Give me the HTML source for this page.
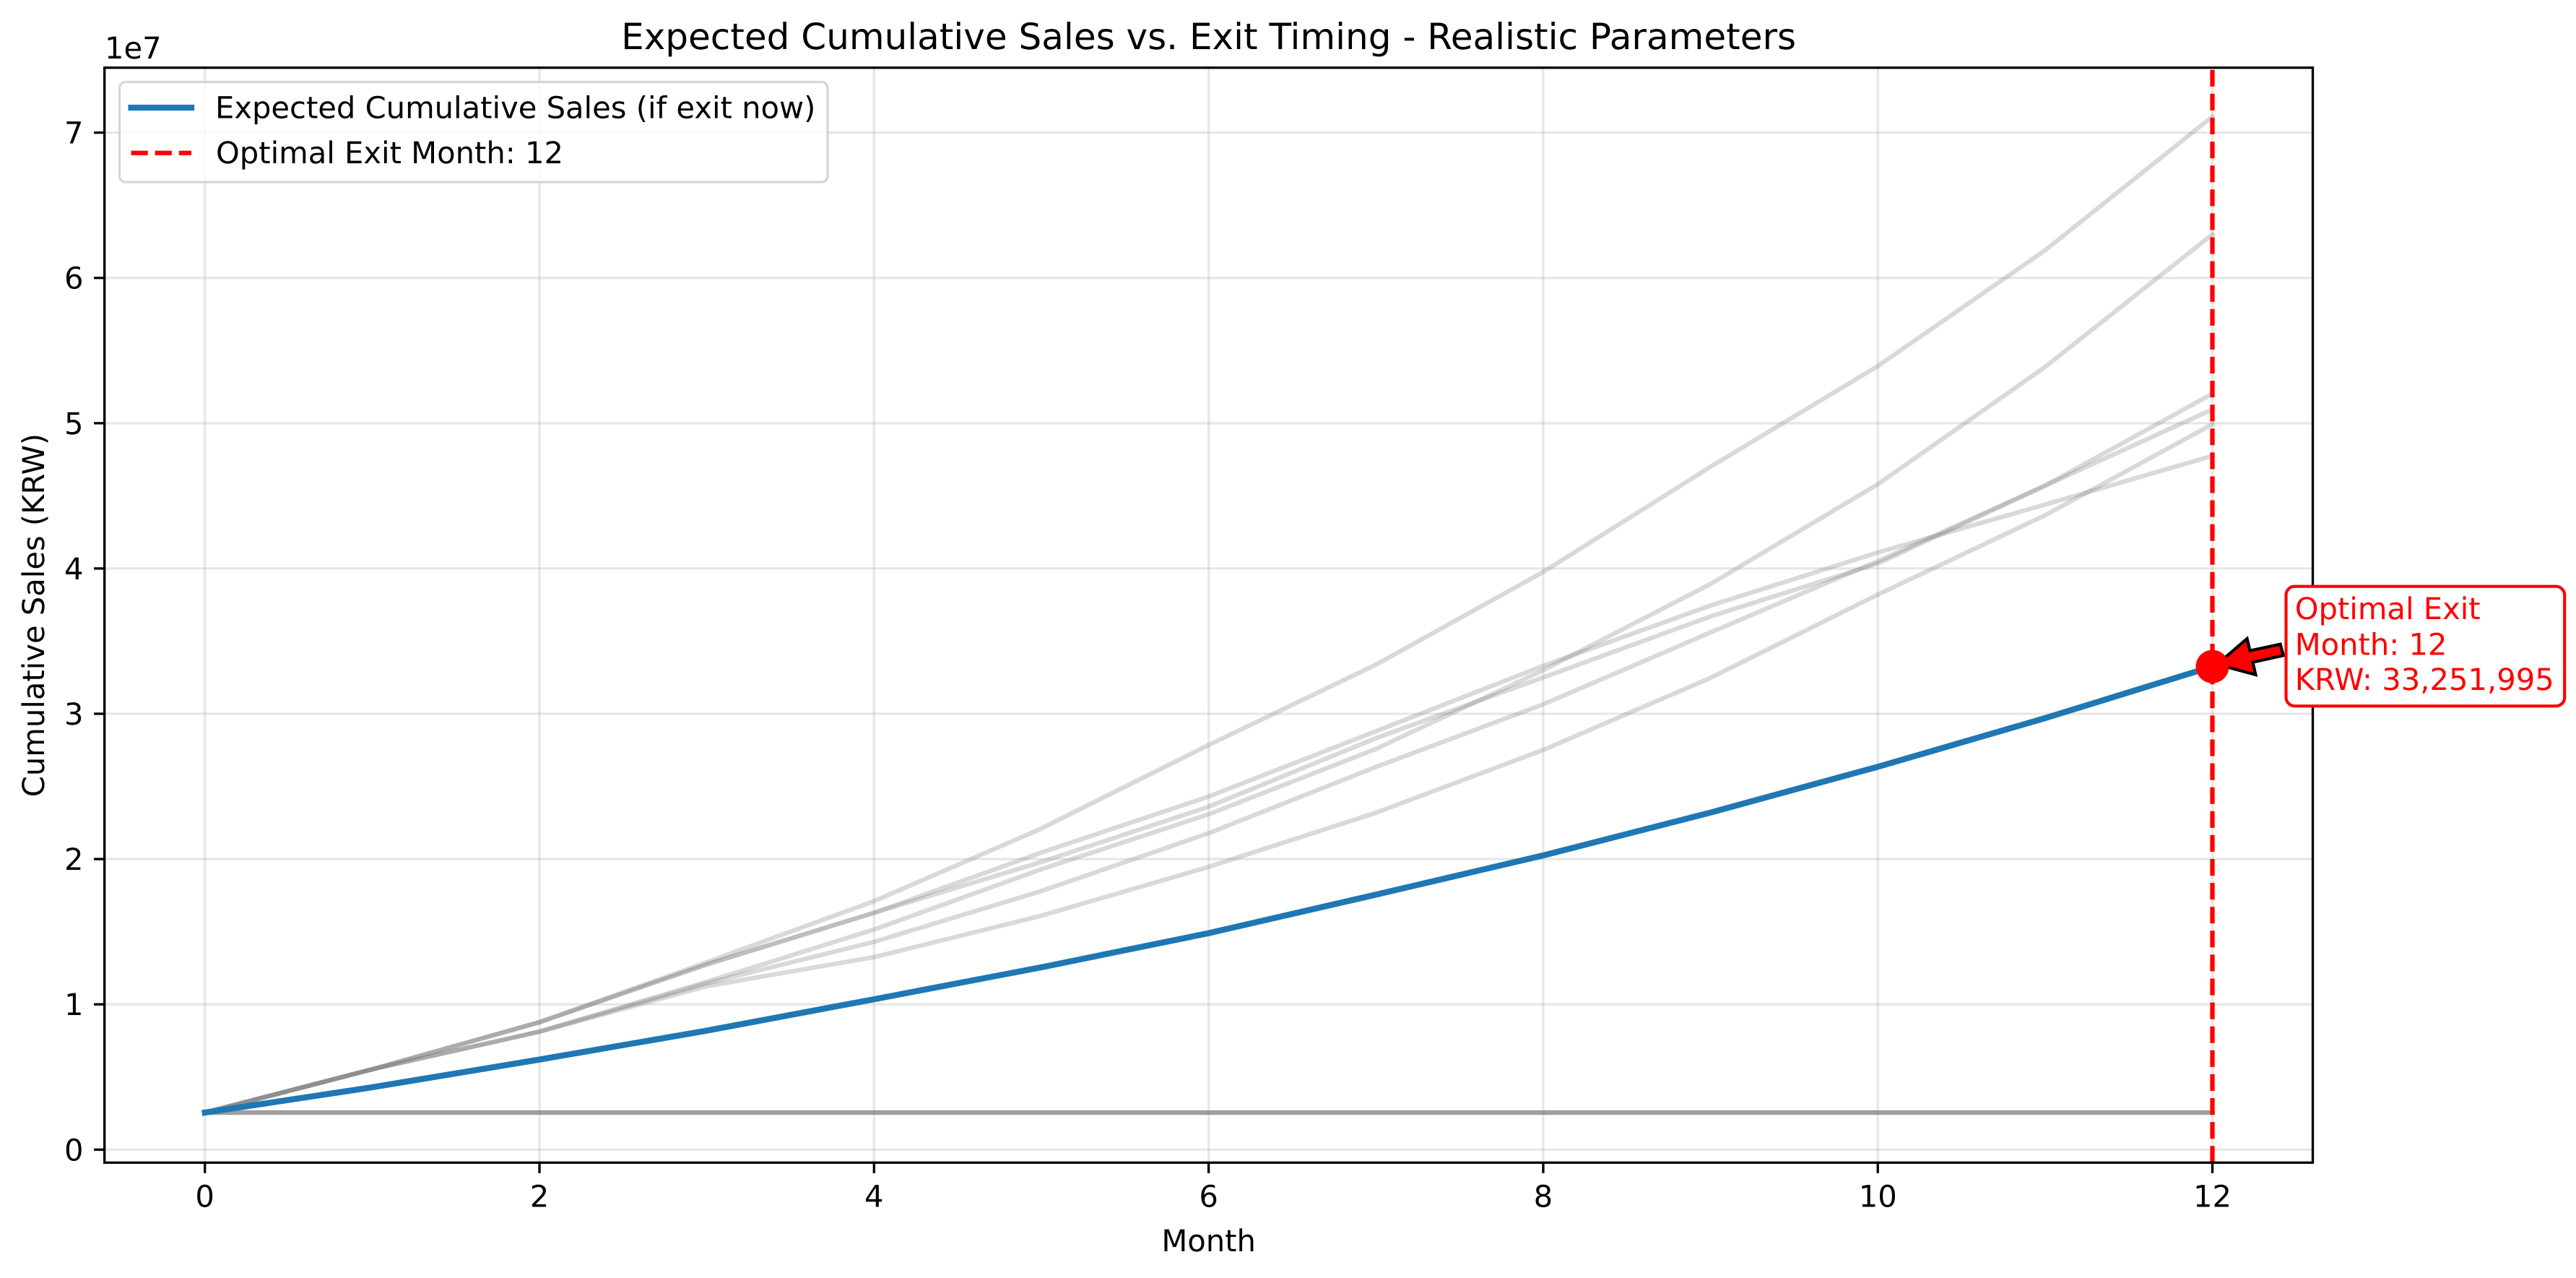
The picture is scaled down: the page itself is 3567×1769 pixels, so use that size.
<!DOCTYPE html>
<html lang="en">
<head>
<meta charset="utf-8">
<title>Expected Cumulative Sales vs. Exit Timing - Realistic Parameters</title>
<style>
html,body{margin:0;padding:0;background:#fff;}
svg{display:block;}
text{font-family:"DejaVu Sans","Liberation Sans",sans-serif;font-size:41.67px;fill:#000;text-rendering:geometricPrecision;}
</style>
</head>
<body>
<svg id="chart" xmlns="http://www.w3.org/2000/svg" width="3567" height="1769" viewBox="0 0 3567 1769">
  <rect x="0" y="0" width="3567" height="1769" fill="#ffffff"/>
  <rect x="144.7" y="93.7" width="3057.8" height="1515.6" fill="#ffffff"/>
  <g id="grid"></g>
  <g id="paths"></g>
  <g id="main"></g>
  <g id="optimal"></g>
  <g id="arrowLayer"></g>
  <g id="markerLayer"></g>
  <g id="legend">
    <rect x="165.5" y="113.5" width="980.5" height="138.5" rx="8.3" ry="8.3" fill="#ffffff" fill-opacity="0.8" stroke="#cccccc" stroke-opacity="0.8" stroke-width="3.33"/>
    <line x1="181.6" y1="149" x2="265" y2="149" stroke="#1f77b4" stroke-width="8.33" stroke-linecap="square"/>
    <text x="298" y="163.5">Expected Cumulative Sales (if exit now)</text>
    <line x1="181.6" y1="211.7" x2="265" y2="211.7" stroke="#ff0000" stroke-width="6.25" stroke-dasharray="23.1 10"/>
    <text id="legendOptimal" x="299" y="226"></text>
  </g>
  <g id="axes"></g>
  <text x="1673.6" y="68" text-anchor="middle" style="font-size:50px">Expected Cumulative Sales vs. Exit Timing - Realistic Parameters</text>
  <text x="145" y="81">1e7</text>
  <text x="1673.6" y="1732" text-anchor="middle">Month</text>
  <text transform="translate(61 851.5) rotate(-90)" text-anchor="middle">Cumulative Sales (KRW)</text>
  <g id="annotation"></g>
</svg>
<script>
const months = [0,1,2,3,4,5,6,7,8,9,10,11,12];
const expectedSales = [2550000,4290000,6200000,8190000,10350000,12550000,14900000,17550000,20250000,23200000,26350000,29700000,33251995];
const samplePathA = [2550000,5530000,8770000,12900000,17100000,22100000,27850000,33380000,39760000,47000000,53930000,61900000,71100000];
const samplePathB = [2550000,5530000,8120000,11550000,15150000,19300000,23080000,27580000,33000000,38930000,45800000,53870000,63000000];
const samplePathC = [2550000,5530000,8120000,11450000,14300000,17800000,21780000,26340000,30650000,35600000,40500000,45700000,52030000];
const samplePathD = [2550000,5530000,8770000,12750000,16300000,19800000,23600000,28320000,32500000,36700000,40340000,45700000,50950000];
const samplePathE = [2550000,5530000,8120000,11250000,13250000,16100000,19460000,23190000,27510000,32470000,38200000,43660000,49930000];
const samplePathF = [2550000,5530000,8770000,12750000,16300000,20450000,24300000,28800000,33300000,37450000,41100000,44400000,47750000];
const flatPath1 = [2550000,2550000,2550000,2550000,2550000,2550000,2550000,2550000,2550000,2550000,2550000,2550000,2550000];
const flatPath2 = [2550000,2550000,2550000,2550000,2550000,2550000,2550000,2550000,2550000,2550000,2550000,2550000,2550000];
const flatPath3 = [2550000,2550000,2550000,2550000,2550000,2550000,2550000,2550000,2550000,2550000,2550000,2550000,2550000];
const flatPath4 = [2550000,2550000,2550000,2550000,2550000,2550000,2550000,2550000,2550000,2550000,2550000,2550000,2550000];
const xTicks = [0,2,4,6,8,10,12];
const yTicks = [0,10000000,20000000,30000000,40000000,50000000,60000000,70000000];
const yTickLabels = ["0","1","2","3","4","5","6","7"];
const optimalMonth = 12;
const annotationTitle = "Optimal Exit";

const SVG_NS = "http://www.w3.org/2000/svg";
const left = 144.7, right = 3202.5, top_ = 93.7, bottom = 1609.3;
const xMin = -0.6, xMax = 12.6;
const yMin = -895000, yMax = 74470000;
function xScale(v){ return left + (v - xMin) / (xMax - xMin) * (right - left); }
function yScale(v){ return bottom - (v - yMin) / (yMax - yMin) * (bottom - top_); }
function create(tag, parent, attrs){
  const el = document.createElementNS(SVG_NS, tag);
  for (const k in attrs) el.setAttribute(k, attrs[k]);
  parent.appendChild(el);
  return el;
}
function pointsOf(values){
  return values.map((v, i) => xScale(months[i]).toFixed(2) + "," + yScale(v).toFixed(2)).join(" ");
}

const gridLayer = document.getElementById("grid");
const axesLayer = document.getElementById("axes");

xTicks.forEach(function(t){
  const g = create("line", gridLayer, {x1:xScale(t), x2:xScale(t), y1:top_, y2:bottom, stroke:"#b0b0b0", "stroke-opacity":0.3, "stroke-width":3.33});
  
  
  const tick = create("line", axesLayer, {x1:xScale(t), x2:xScale(t), y1:bottom, y2:bottom + 14.6, stroke:"#000", "stroke-width":3.33});
  
  
  const label = create("text", axesLayer, {x:xScale(t), y:1670.7, "text-anchor":"middle"});
  label.textContent = String(t);
  
  
});

yTicks.forEach(function(t, i){
  const g = create("line", gridLayer, {x1:left, x2:right, y1:yScale(t), y2:yScale(t), stroke:"#b0b0b0", "stroke-opacity":0.3, "stroke-width":3.33});
  
  
  const tick = create("line", axesLayer, {x1:left - 14.6, x2:left, y1:yScale(t), y2:yScale(t), stroke:"#000", "stroke-width":3.33});
  
  
  const label = create("text", axesLayer, {x:left - 29.2, y:yScale(t) + 15, "text-anchor":"end"});
  label.textContent = yTickLabels[i];
  
  
});

const spine = create("rect", axesLayer, {x:left, y:top_, width:right - left, height:bottom - top_, fill:"none", stroke:"#000", "stroke-width":3.33});



const grayLayer = document.getElementById("paths");
[samplePathA, samplePathB, samplePathC, samplePathD, samplePathE, samplePathF, flatPath1, flatPath2, flatPath3, flatPath4].forEach(function(values){
  const line = create("polyline", grayLayer, {points:pointsOf(values), fill:"none", stroke:"#808080", "stroke-opacity":0.3, "stroke-width":6.25, "stroke-linecap":"square", "stroke-linejoin":"round"});
  
  
});

const mainLine = create("polyline", document.getElementById("main"), {points:pointsOf(expectedSales), fill:"none", stroke:"#1f77b4", "stroke-width":8.33, "stroke-linecap":"square", "stroke-linejoin":"round"});



const optimalValue = expectedSales[months.indexOf(optimalMonth)];
const mx = xScale(optimalMonth);
const my = yScale(optimalValue);

const vline = create("line", document.getElementById("optimal"), {x1:mx, x2:mx, y1:bottom, y2:top_, stroke:"#ff0000", "stroke-width":6.25, "stroke-dasharray":"23.1 10"});



const arrowShape = [[6.5,-3],[48,-38.6],[52,-21.9],[94,-30.9],[98.3,-15.3],[55.9,-5.9],[59.9,11.4]];
const arrow = create("polygon", document.getElementById("arrowLayer"), {points:arrowShape.map(p => (mx + p[0]).toFixed(2) + "," + (my + p[1]).toFixed(2)).join(" "), fill:"#ff0000", stroke:"#000", "stroke-width":4.17, "stroke-linejoin":"miter"});



const marker = create("circle", document.getElementById("markerLayer"), {cx:mx, cy:my, r:23, fill:"#ff0000"});



document.getElementById("legendOptimal").textContent = "Optimal Exit Month: " + optimalMonth;

const annLayer = document.getElementById("annotation");
const annBox = create("rect", annLayer, {x:mx + 102, y:my - 110.9, width:385.7, height:165.6, rx:12, ry:12, fill:"#ffffff", stroke:"#ff0000", "stroke-width":4.17});



const annLine1 = create("text", annLayer, {x:mx + 114.2, y:my - 65.6, style:"fill:#ff0000"});
annLine1.textContent = annotationTitle;



const annLine2 = create("text", annLayer, {x:mx + 114.2, y:my - 15.9, style:"fill:#ff0000"});
annLine2.textContent = "Month: " + optimalMonth;



const annLine3 = create("text", annLayer, {x:mx + 114.2, y:my + 32.4, style:"fill:#ff0000"});
annLine3.textContent = "KRW: " + optimalValue.toLocaleString("en-US");


</script>
</body>
</html>
